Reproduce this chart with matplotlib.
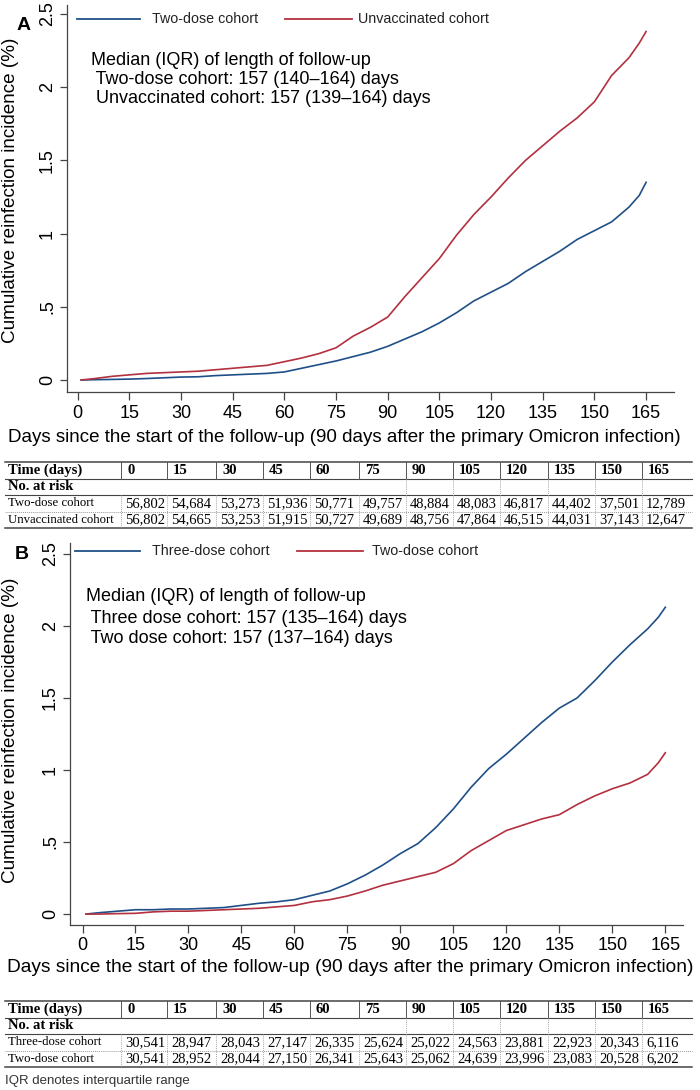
import numpy as np
import matplotlib
matplotlib.use("Agg")
import matplotlib.pyplot as plt
from matplotlib.lines import Line2D

W, H = 700, 1090
BLUE = '#1f4f88'
RED = '#b3303e'

days = [1, 5, 10, 15, 20, 25, 30, 35, 40, 45, 50, 55, 60, 65, 70, 75, 80, 85,
        90, 95, 100, 105, 110, 115, 120, 125, 130, 135, 140, 145, 150, 155, 160, 163, 165]

# panel A (%)
a_two_dose = [0, 0.002, 0.004, 0.006, 0.01, 0.015, 0.02, 0.022, 0.03, 0.035, 0.04, 0.045,
              0.055, 0.08, 0.105, 0.13, 0.16, 0.19, 0.23, 0.28, 0.33, 0.39, 0.46, 0.54,
              0.60, 0.66, 0.74, 0.81, 0.88, 0.96, 1.02, 1.08, 1.18, 1.26, 1.35]
a_unvacc = [0, 0.01, 0.025, 0.035, 0.045, 0.05, 0.055, 0.06, 0.07, 0.08, 0.09, 0.10,
            0.125, 0.15, 0.18, 0.22, 0.30, 0.36, 0.43, 0.57, 0.70, 0.83, 0.99, 1.13,
            1.25, 1.38, 1.50, 1.60, 1.70, 1.79, 1.90, 2.08, 2.20, 2.30, 2.38]

# panel B
b_three_dose = [0, 0.01, 0.02, 0.03, 0.03, 0.035, 0.035, 0.04, 0.045, 0.06, 0.075, 0.085,
                0.10, 0.13, 0.16, 0.21, 0.27, 0.34, 0.42, 0.49, 0.60, 0.73, 0.88, 1.01,
                1.11, 1.22, 1.33, 1.43, 1.50, 1.62, 1.75, 1.87, 1.98, 2.06, 2.13]
b_two_dose = [0, 0.0, 0.003, 0.005, 0.015, 0.02, 0.02, 0.025, 0.03, 0.035, 0.04, 0.05,
              0.06, 0.085, 0.10, 0.125, 0.16, 0.20, 0.23, 0.26, 0.29, 0.35, 0.44, 0.51,
              0.58, 0.62, 0.66, 0.69, 0.76, 0.82, 0.87, 0.91, 0.97, 1.05, 1.12]

x_ticks = [0, 15, 30, 45, 60, 75, 90, 105, 120, 135, 150, 165]
y_ticks = [0, 0.5, 1, 1.5, 2, 2.5]
y_tick_labels = ['0', '.5', '1', '1.5', '2', '2.5']

table_days = ['0', '15', '30', '45', '60', '75', '90', '105', '120', '135', '150', '165']
a_rows = ['Two-dose cohort', 'Unvaccinated cohort']
a_risk_two = ['56,802', '54,684', '53,273', '51,936', '50,771', '49,757', '48,884',
              '48,083', '46,817', '44,402', '37,501', '12,789']
a_risk_unvacc = ['56,802', '54,665', '53,253', '51,915', '50,727', '49,689', '48,756',
                 '47,864', '46,515', '44,031', '37,143', '12,647']
b_rows = ['Three-dose cohort', 'Two-dose cohort']
b_risk_three = ['30,541', '28,947', '28,043', '27,147', '26,335', '25,624', '25,022',
                '24,563', '23,881', '22,923', '20,343', '6,116']
b_risk_two = ['30,541', '28,952', '28,044', '27,150', '26,341', '25,643', '25,062',
              '24,639', '23,996', '23,083', '20,528', '6,202']

SANS = 'Liberation Sans'
SERIF = 'Liberation Serif'
plt.rcParams['font.family'] = SANS


def fx(x):
    return x / W


def fy(y):
    return 1 - y / H


fig = plt.figure(figsize=(7, 10.9), dpi=100)


def make_axes(left, right, top, bottom, xlim, ylim):
    ax = fig.add_axes([fx(left), fy(bottom), (right - left) / W, (bottom - top) / H])
    ax.set_xlim(*xlim)
    ax.set_ylim(*ylim)
    for s in ['top', 'right']:
        ax.spines[s].set_visible(False)
    for s in ['left', 'bottom']:
        ax.spines[s].set_color('#444444')
        ax.spines[s].set_linewidth(0.9)
    ax.set_xticks(x_ticks)
    ax.set_xticklabels([str(t) for t in x_ticks], fontsize=13)
    ax.set_yticks(y_ticks)
    ax.set_yticklabels(y_tick_labels, fontsize=13, rotation=90, va='center')
    ax.tick_params(axis='x', length=6, width=0.9, color='#444444', pad=3)
    ax.tick_params(axis='y', length=5, width=0.9, color='#444444', pad=3)
    ax.set_facecolor('none')
    return ax


def legend(y, items):
    for x0, x1, xt, col, lab in items:
        fig.add_artist(Line2D([fx(x0), fx(x1)], [fy(y), fy(y)], color=col, lw=1.3,
                              transform=fig.transFigure))
        fig.text(fx(xt), fy(y), lab, fontsize=10.3, va='center', ha='left', color='#222222')


def table(top, rows, vals):
    rh = 16.5
    seps = [121, 167, 216, 263, 310, 359, 406, 453, 500, 548, 595, 642]
    left, right = 5, 692
    ys = [top + rh * i for i in range(5)]
    # horizontal lines
    for i, y in enumerate(ys):
        if i == 3:
            fig.add_artist(Line2D([fx(left), fx(right)], [fy(y), fy(y)], color='#999999',
                                  lw=0.7, ls=(0, (1, 1)), transform=fig.transFigure))
        else:
            lw = 1.1 if i in (0, 4) else 0.8
            fig.add_artist(Line2D([fx(left), fx(right)], [fy(y), fy(y)], color='#444444',
                                  lw=lw, transform=fig.transFigure))
    # vertical separators
    for sx in seps:
        fig.add_artist(Line2D([fx(sx), fx(sx)], [fy(ys[0]), fy(ys[1])], color='#555555',
                              lw=0.7, transform=fig.transFigure))
        if sx >= 406:
            fig.add_artist(Line2D([fx(sx), fx(sx)], [fy(ys[1]), fy(ys[2])], color='#aaaaaa',
                                  lw=0.7, ls=(0, (1, 1)), transform=fig.transFigure))
        fig.add_artist(Line2D([fx(sx), fx(sx)], [fy(ys[2]), fy(ys[4])], color='#aaaaaa',
                              lw=0.7, ls=(0, (1, 1)), transform=fig.transFigure))
    fs = 10.5
    fig.text(fx(8), fy(ys[0] + rh / 2), 'Time (days)', family=SERIF, weight='bold',
             fontsize=fs, va='center')
    for sx, d in zip(seps, table_days):
        fig.text(fx(sx + 6), fy(ys[0] + rh / 2), d, family=SERIF, weight='bold',
                 fontsize=fs, va='center')
    fig.text(fx(8), fy(ys[1] + rh / 2), 'No. at risk', family=SERIF, weight='bold',
             fontsize=fs, va='center')
    for r, (name, row) in enumerate(zip(rows, vals)):
        yc = fy(ys[2 + r] + rh / 2)
        fig.text(fx(8), yc, name, family=SERIF, fontsize=9.2, va='center')
        for sx, v in zip(seps, row):
            fig.text(fx(sx + 4), yc, v, family=SERIF, fontsize=fs, va='center')


XLAB = 'Days since the start of the follow-up (90 days after the primary Omicron infection)'
YLAB = 'Cumulative reinfection incidence (%)'

# ---- panel A
axA = make_axes(67, 674, 5, 392, (-3.1, 173.1), (-0.082, 2.561))
axA.plot(days, a_two_dose, color=BLUE, lw=1.2)
axA.plot(days, a_unvacc, color=RED, lw=1.2)
fig.text(fx(11), fy(190), YLAB, rotation=90, fontsize=13.6, va='center', ha='center')
fig.text(fx(344), fy(437), XLAB, fontsize=13.5, va='center', ha='center')
fig.text(fx(24), fy(25), 'A', fontsize=14, weight='bold', va='center', ha='center')
legend(19, [(77, 140, 152, BLUE, 'Two-dose cohort'),
            (285, 352, 358, RED, 'Unvaccinated cohort')])
fig.text(fx(91), fy(65), 'Median (IQR) of length of follow-up', fontsize=13, va='baseline')
fig.text(fx(91), fy(84), ' Two-dose cohort: 157 (140\u2013164) days', fontsize=13, va='baseline')
fig.text(fx(91), fy(103), ' Unvaccinated cohort: 157 (139\u2013164) days', fontsize=13, va='baseline')
table(462, a_rows, [a_risk_two, a_risk_unvacc])

# ---- panel B
axB = make_axes(70, 683, 543, 925, (-3.54, 170.0), (-0.076, 2.576))
axB.plot(days, b_three_dose, color=BLUE, lw=1.2)
axB.plot(days, b_two_dose, color=RED, lw=1.2)
fig.text(fx(11), fy(730), YLAB, rotation=90, fontsize=13.6, va='center', ha='center')
fig.text(fx(350), fy(968), XLAB, fontsize=13.8, va='center', ha='center')
fig.text(fx(22), fy(555), 'B', fontsize=14, weight='bold', va='center', ha='center')
legend(551, [(75, 140, 152, BLUE, 'Three-dose cohort'),
             (297, 363, 372, RED, 'Two-dose cohort')])
fig.text(fx(86), fy(601), 'Median (IQR) of length of follow-up', fontsize=13, va='baseline')
fig.text(fx(86), fy(623), ' Three dose cohort: 157 (135\u2013164) days', fontsize=13, va='baseline')
fig.text(fx(86), fy(643), ' Two dose cohort: 157 (137\u2013164) days', fontsize=13, va='baseline')
table(1001, b_rows, [b_risk_three, b_risk_two])

fig.text(fx(5), fy(1081), 'IQR denotes interquartile range', fontsize=9.5, va='center',
         color='#333333')

fig.savefig('out.png', dpi=100)
